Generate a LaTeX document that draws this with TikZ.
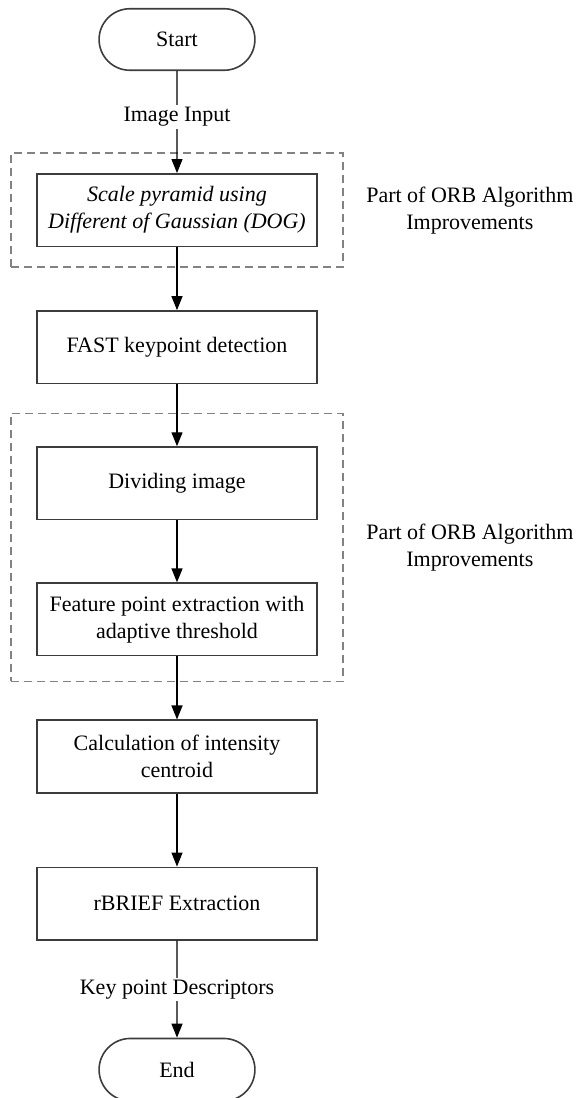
\documentclass[tikz,border=0pt]{standalone}
\usepackage{fontspec}
\setmainfont{Liberation Serif}
\usetikzlibrary{positioning, arrows.meta, shapes.misc, fit}
\definecolor{orbline}{RGB}{60, 60, 60}
\definecolor{orbdash}{RGB}{130, 130, 130}

\begin{document}
\begin{tikzpicture}[
    x=1pt, y=1pt,
    node distance=63pt,
    font=\fontsize{22}{27}\selectfont,
    stepbox/.style={rectangle, draw=orbline, line width=1.6pt,
                minimum width=280.5pt, minimum height=72.5pt, align=center,
                inner sep=2pt},
    terminal/.style={rounded rectangle, draw=orbline, line width=1.6pt,
                minimum width=162.5pt, minimum height=61.5pt},
    groupbox/.style={draw=orbdash, dash pattern=on 8pt off 5pt,
                line width=1.4pt, inner xsep=25pt, inner ysep=20pt},
    sidenote/.style={align=center},
    arrow/.style={-{Triangle[width=11pt,length=14pt]}, line width=1.3pt, color=black}
  ]
    \useasboundingbox (0,0) rectangle (580,-1098);

    \node[terminal] (start) at (177,-39.5) {Start};
    \node[stepbox, below=102pt of start] (dog)
        {\textit{Scale pyramid using}\\\textit{Different of Gaussian (DOG)}};
    \node[stepbox, below=of dog]        (fast)  {FAST keypoint detection};
    \node[stepbox, below=62pt of fast]  (div)   {Dividing image};
    \node[stepbox, below=62pt of div]   (feat)  {Feature point extraction with\\adaptive threshold};
    \node[stepbox, below=63pt of feat]  (calc)  {Calculation of intensity\\centroid};
    \node[stepbox, below=73pt of calc]  (brief) {rBRIEF Extraction};
    \node[terminal, minimum height=62.5pt, below=97pt of brief] (end) {End};

    % dashed groups for the improved parts
    \node[groupbox, fit=(dog)] (grp1) {};
    \coordinate[above=8pt of div.north] (g2top);
    \node[groupbox, fit=(g2top)(feat), inner ysep=25pt] (grp2) {};
    \node[sidenote, right=19pt of grp1] (note1) {Part of ORB Algorithm\\Improvements};
    \node[sidenote, right=19pt of grp2] (note2) {Part of ORB Algorithm\\Improvements};

    \draw[arrow] (start) -- node[pos=0.45, fill=white, inner sep=2pt] (imgin) {Image Input} (dog);
    \draw[arrow] (dog)   -- (fast);
    \draw[arrow] (fast)  -- (div);
    \draw[arrow] (div)   -- (feat);
    \draw[arrow] (feat)  -- (calc);
    \draw[arrow] (calc)  -- (brief);
    \draw[arrow] (brief) -- node[fill=white, inner sep=2pt] (kpd) {Key point Descriptors} (end);
  \end{tikzpicture}
\end{document}
